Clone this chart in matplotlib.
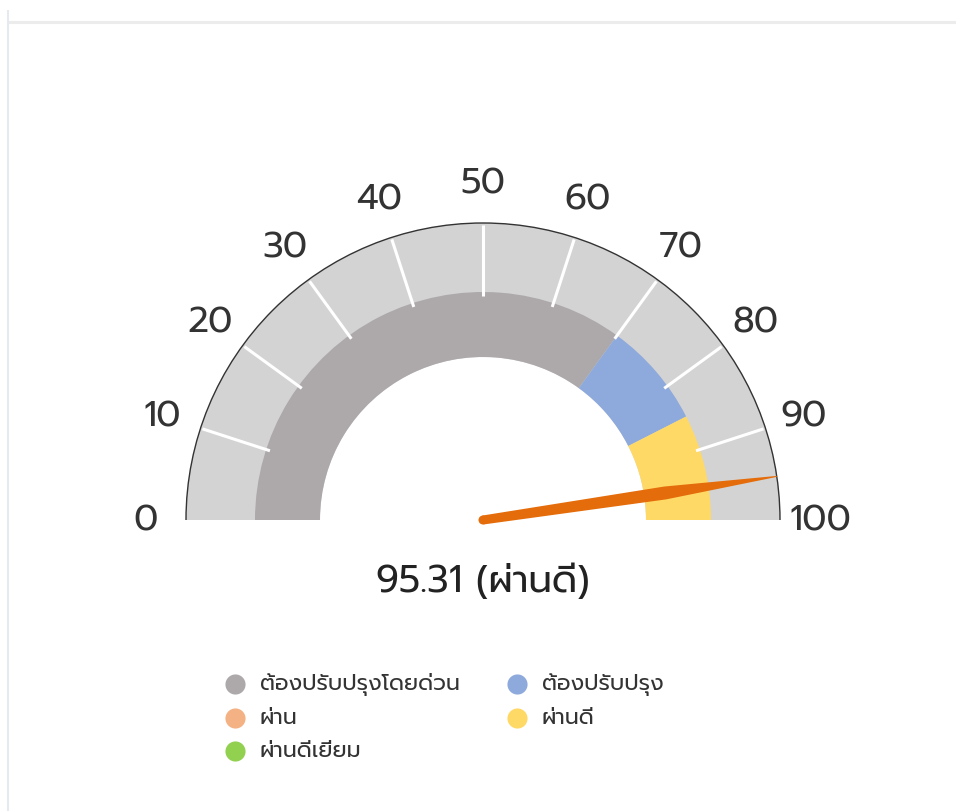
import numpy as np
import matplotlib
matplotlib.use('Agg')
import matplotlib.pyplot as plt
from matplotlib.patches import Wedge, Arc, Polygon, Circle

plt.rcParams['font.family'] = ['Prompt', 'DejaVu Sans']

value = 95.31
value_label = 'ผ่านดี'
band_starts = [0, 70, 85]
band_ends = [70, 85, 100]
band_colors = ['#ADA9AA', '#8EA9DB', '#FFD966']
tick_values = [0, 10, 20, 30, 40, 50, 60, 70, 80, 90, 100]
legend_names = ['ต้องปรับปรุงโดยด่วน', 'ต้องปรับปรุง', 'ผ่าน', 'ผ่านดี', 'ผ่านดีเยี่ยม']
legend_colors = ['#ADA9AA', '#8EA9DB', '#F4B183', '#FFD966', '#92D050']

W, H = 956, 812
fig = plt.figure(figsize=(W / 100, H / 100), dpi=100)
ax = fig.add_axes([0, 0, 1, 1])
ax.set_xlim(0, W)
ax.set_ylim(0, H)
ax.axis('off')

# card border (top + left)
ax.plot([8, W], [H - 23, H - 23], color='#ECECEC', lw=2.2, solid_capstyle='butt')
ax.plot([8.5, 8.5], [0, H - 11], color='#E6E9EE', lw=1.5, solid_capstyle='butt')

cx, cy = 483, H - 521
r_out, r_band, r_in = 297, 228, 163

def ang(v):
    return 180 - v * 1.8

ax.add_patch(Wedge((cx, cy), r_out, 0, 180, width=r_out - r_in, color='#D3D3D3', lw=0))
for s, e, c in zip(band_starts, band_ends, band_colors):
    ax.add_patch(Wedge((cx, cy), r_band, ang(e), ang(s), width=r_band - r_in, color=c, lw=0))

for v in tick_values[1:-1]:
    a = np.radians(ang(v))
    ax.plot([cx + 224 * np.cos(a), cx + 295 * np.cos(a)],
            [cy + 224 * np.sin(a), cy + 295 * np.sin(a)], color='white', lw=2.2, solid_capstyle='butt')

ax.add_patch(Arc((cx, cy), 2 * r_out, 2 * r_out, theta1=0, theta2=180, color='#333333', lw=1))

for v in tick_values:
    a = np.radians(ang(v))
    ax.text(cx + 337 * np.cos(a), cy + 337 * np.sin(a), str(v), fontsize=26,
            ha='center', va='center', color='#333333')

# needle
a = np.radians(ang(value))
u = np.array([np.cos(a), np.sin(a)])
n = np.array([-np.sin(a), np.cos(a)])
prof = [(0, 4.5), (0.62 * r_out, 6.5), (r_out, 0.5)]
pts = [np.array([cx, cy]) + d * u + w * n for d, w in prof]
pts += [np.array([cx, cy]) + d * u - w * n for d, w in prof[::-1]]
ax.add_patch(Polygon(pts, closed=True, color='#E46C0A', lw=0))
ax.add_patch(Circle((cx, cy), 4.5, color='#E46C0A', lw=0))

ax.text(cx, H - 582, f'{value} ({value_label})', fontsize=27, ha='center', va='center',
        color='#222222')

for i, (name, col) in enumerate(zip(legend_names, legend_colors)):
    x0 = 235 + 282 * (i % 2)
    y0 = H - 685 - 33.5 * (i // 2)
    ax.scatter([x0], [y0], s=210, color=col, lw=0)
    ax.text(x0 + 25, y0, name, fontsize=16, ha='left', va='center', color='#333333')

plt.savefig('out.png', dpi=100)
